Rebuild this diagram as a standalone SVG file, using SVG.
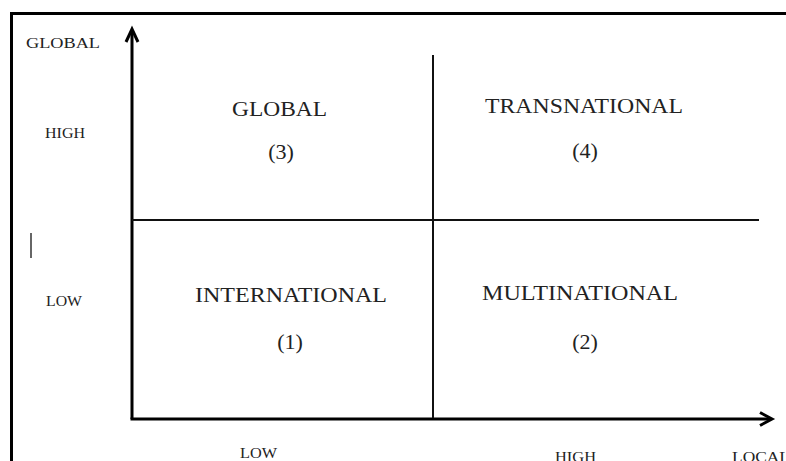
<svg xmlns="http://www.w3.org/2000/svg" width="786" height="461" viewBox="0 0 786 461">
<style>
.t{font-family:"Liberation Serif","Times New Roman",serif;fill:#222}
.q{font-size:20px}
.n{font-size:22px;text-anchor:middle}
.s{font-size:14px}
.ax{stroke:#000;stroke-width:3;fill:none}
.in{stroke:#111;stroke-width:2;fill:none}
</style>
<rect width="786" height="461" fill="#fff"/>
<path d="M11.5 470 V13.5 H800" stroke="#000" stroke-width="3" fill="none"/>
<g id="axes-labels">
<text class="t s" x="26" y="48" textLength="74" lengthAdjust="spacingAndGlyphs">GLOBAL</text>
<text class="t s" x="45" y="138" textLength="40" lengthAdjust="spacingAndGlyphs">HIGH</text>
<text class="t s" x="46" y="306" textLength="36" lengthAdjust="spacingAndGlyphs">LOW</text>
<text class="t s" x="240" y="458" textLength="37" lengthAdjust="spacingAndGlyphs">LOW</text>
<text class="t s" x="555" y="462" textLength="41" lengthAdjust="spacingAndGlyphs">HIGH</text>
<text class="t s" x="732" y="462" textLength="58" lengthAdjust="spacingAndGlyphs">LOCAL</text>
<line x1="31" y1="233" x2="31" y2="258" stroke="#333" stroke-width="1.5"/>
</g>
<g id="connectors">
<polyline class="ax" points="132,419 132,30"/>
<polyline class="ax" points="126,42 132,29 138,42"/>
<polyline class="ax" points="130.5,419 771,419"/>
<polyline class="ax" points="760,412.5 772,419 760,425.5"/>
<line class="in" x1="433" y1="55" x2="433" y2="418"/>
<line class="in" x1="132" y1="220" x2="759" y2="220"/>
</g>
<g id="q-global">
<text class="t q" x="232" y="116" textLength="95" lengthAdjust="spacingAndGlyphs">GLOBAL</text>
<text class="t n" x="281" y="159">(3)</text>
</g>
<g id="q-transnational">
<text class="t q" x="485" y="113" textLength="198" lengthAdjust="spacingAndGlyphs">TRANSNATIONAL</text>
<text class="t n" x="585" y="158">(4)</text>
</g>
<g id="q-international">
<text class="t q" x="195" y="302" textLength="192" lengthAdjust="spacingAndGlyphs">INTERNATIONAL</text>
<text class="t n" x="290" y="349">(1)</text>
</g>
<g id="q-multinational">
<text class="t q" x="482" y="300" textLength="196" lengthAdjust="spacingAndGlyphs">MULTINATIONAL</text>
<text class="t n" x="585" y="349">(2)</text>
</g>
</svg>
